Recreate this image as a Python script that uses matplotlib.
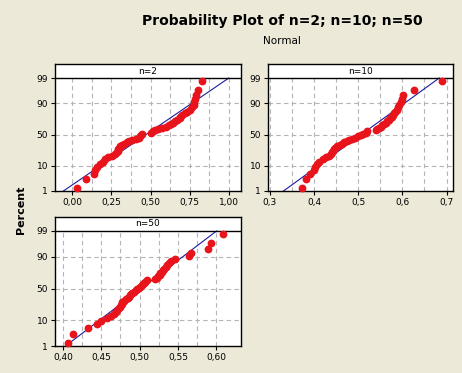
import numpy as np
import matplotlib
matplotlib.use("Agg")
import matplotlib.pyplot as plt
from statistics import NormalDist

# sorted sample values (50 per panel)
n2_vals = [0.033, 0.087, 0.138, 0.143, 0.160, 0.180, 0.195, 0.210, 0.230, 0.255,
           0.275, 0.285, 0.290, 0.295, 0.300, 0.305, 0.320, 0.333, 0.350, 0.365,
           0.380, 0.410, 0.425, 0.435, 0.440, 0.445, 0.500, 0.515, 0.530, 0.550,
           0.575, 0.600, 0.620, 0.630, 0.640, 0.655, 0.670, 0.685, 0.690, 0.700,
           0.720, 0.735, 0.750, 0.765, 0.775, 0.780, 0.785, 0.790, 0.800, 0.830]
n10_vals = [0.373, 0.381, 0.392, 0.400, 0.403, 0.406, 0.412, 0.420, 0.427, 0.434,
            0.438, 0.441, 0.443, 0.446, 0.448, 0.452, 0.458, 0.463, 0.468, 0.474,
            0.480, 0.486, 0.492, 0.500, 0.506, 0.512, 0.518, 0.521, 0.540, 0.543,
            0.547, 0.551, 0.555, 0.558, 0.562, 0.566, 0.570, 0.573, 0.576, 0.579,
            0.582, 0.584, 0.587, 0.590, 0.593, 0.596, 0.599, 0.602, 0.627, 0.690]
n50_vals = [0.407, 0.4125, 0.4325, 0.444, 0.450, 0.4575, 0.4625, 0.4665, 0.469, 0.471,
            0.473, 0.475, 0.476, 0.4765, 0.477, 0.480, 0.482, 0.4845, 0.486, 0.4875,
            0.489, 0.490, 0.493, 0.495, 0.497, 0.499, 0.501, 0.503, 0.505, 0.506,
            0.507, 0.509, 0.520, 0.522, 0.524, 0.526, 0.527, 0.529, 0.530, 0.532,
            0.534, 0.536, 0.538, 0.541, 0.546, 0.565, 0.567, 0.589, 0.5925, 0.609]

panel_titles = ["n=2", "n=10", "n=50"]
pct_ticks = [1, 10, 50, 90, 99]
x_ticks = [[0.0, 0.25, 0.5, 0.75, 1.0], [0.3, 0.4, 0.5, 0.6, 0.7], [0.40, 0.45, 0.50, 0.55, 0.60]]
x_labels = [["0,00", "0,25", "0,50", "0,75", "1,00"],
            ["0,3", "0,4", "0,5", "0,6", "0,7"],
            ["0,40", "0,45", "0,50", "0,55", "0,60"]]

nd = NormalDist()
def z(p):
    return nd.inv_cdf(p)

BG = "#ece9d8"
RED = "#e8131b"
fig = plt.figure(figsize=(4.62, 3.73), dpi=100, facecolor=BG)

# axes boxes in pixels: left, top, right, bottom
boxes = [(55, 64, 241, 191), (268, 64, 453, 191), (55, 217, 241, 346)]
xlims = [(-0.110, 1.077), (0.296, 0.7146), (0.3896, 0.6322)]
grid_x = [np.arange(0, 1.01, 0.125), np.arange(0.3, 0.701, 0.05), np.arange(0.4, 0.601, 0.025)]
W, H = 462, 373
zlo, zhi = z(0.01), z(0.99)

for k, vals in enumerate([n2_vals, n10_vals, n50_vals]):
    l, t, r, b = boxes[k]
    ax = fig.add_axes([l / W, (H - b) / H, (r - l) / W, (b - t) / H])
    ax.set_facecolor("white")
    # strip ~14 px above the 99 line
    ytop = zhi + (zhi - zlo) * 14 / (b - t - 14)
    ax.set_ylim(zlo, ytop)
    ax.set_xlim(*xlims[k])

    for gx in grid_x[k]:
        ax.plot([gx, gx], [zlo, zhi], color="#b4b4b4", lw=0.8, dashes=(4, 3), zorder=1)
    for p in [10, 50, 90]:
        ax.axhline(z(p / 100), color="#b4b4b4", lw=0.8, dashes=(4, 3), zorder=1)
    ax.axhline(zhi, color="black", lw=1.0, zorder=3)

    n = len(vals)
    ranks = np.arange(1, n + 1)
    zs = [z((i - 0.3) / (n + 0.4)) for i in ranks]
    mu, sd = np.mean(vals), np.std(vals, ddof=1)
    ax.plot([mu + zlo * sd, mu + zhi * sd], [zlo, zhi], color="#1c1ca0", lw=0.8, zorder=2)
    ax.plot(vals, zs, "o", color=RED, ms=4.6, mec=RED, zorder=4, clip_on=False)

    ax.text(0.5, (zhi + ytop) / 2, panel_titles[k], transform=ax.get_yaxis_transform(),
            ha="center", va="center", fontsize=6.5)

    ax.set_yticks([z(p / 100) for p in pct_ticks])
    ax.set_yticklabels([str(p) for p in pct_ticks])
    ax.set_xticks(x_ticks[k])
    ax.set_xticklabels(x_labels[k])
    ax.tick_params(labelsize=6.5, length=3, width=0.8, pad=2, colors="black")
    for s in ax.spines.values():
        s.set_linewidth(1.0)

fig.text(282 / W, 1 - 21 / H, "Probability Plot of n=2; n=10; n=50", ha="center",
         va="center", fontsize=10, fontweight="bold")
fig.text(282 / W, 1 - 41 / H, "Normal", ha="center", va="center", fontsize=7.5)
fig.text(21 / W, 1 - 210 / H, "Percent", ha="center", va="center", rotation=90,
         fontsize=8, fontweight="bold")

fig.savefig("out.png", dpi=100, facecolor=BG)
